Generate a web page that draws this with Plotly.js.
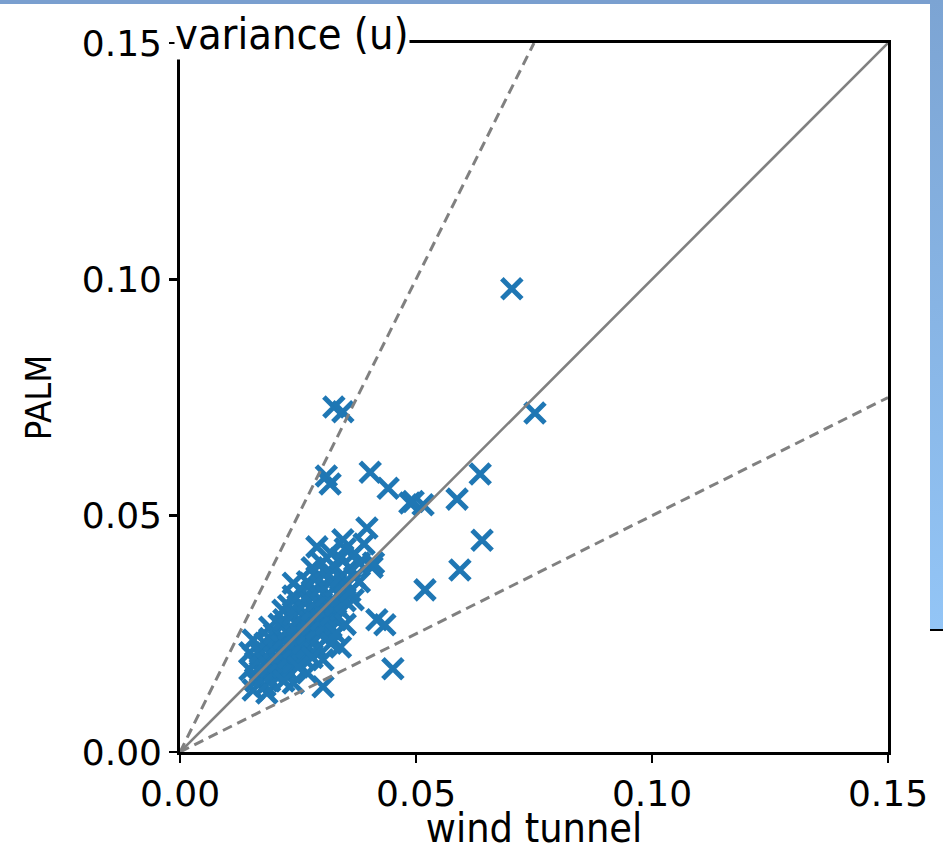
<!DOCTYPE html>
<html>
<head>
<meta charset="utf-8">
<script src="https://cdn.plot.ly/plotly-3.0.1.min.js"></script>
<style>
  html, body { margin: 0; padding: 0; background: #ffffff; }
  #wrap { position: relative; width: 943px; height: 852px; overflow: hidden; }
  #topstrip { position: absolute; left: 0; top: 0; width: 943px; height: 4px; background: #7a9fcf; z-index: 0; }
  #sidestrip { position: absolute; left: 930px; top: 0; width: 13px; height: 629px;
               background: linear-gradient(#7ca4d3, #93c5f6); z-index: 0; }
  #sideline { position: absolute; left: 930px; top: 629px; width: 13px; height: 2px; background: #000; z-index: 0; }
  #chart { position: absolute; left: 0; top: 0; width: 943px; height: 852px; z-index: 1; }
</style>
</head>
<body>
<div id="wrap">
  <div id="topstrip"></div>
  <div id="sidestrip"></div>
  <div id="sideline"></div>
  <div id="chart"></div>
</div>
<script>
// wind tunnel (x) and PALM (y) variance values
const windTunnel = [
  0.0703, 0.0752, 0.0326, 0.0345, 0.0310, 0.0318, 0.0403, 0.0441, 0.0487, 0.0494,
  0.0515, 0.0587, 0.0636, 0.0640, 0.0593, 0.0519, 0.0451, 0.0303, 0.0417, 0.0434,
  0.0396, 0.0345, 0.0407, 0.0380, 0.0367, 0.0340,
  0.0155, 0.0184, 0.0148, 0.0148, 0.0155, 0.0190, 0.0218, 0.0240, 0.0280, 0.0290,
  0.0240, 0.0270, 0.0303, 0.0410,
  0.016, 0.017, 0.016, 0.017, 0.018, 0.018, 0.018, 0.018, 0.019, 0.019,
  0.019, 0.019, 0.020, 0.020, 0.020, 0.020, 0.021, 0.021, 0.021, 0.021,
  0.022, 0.022, 0.022, 0.022, 0.023, 0.023, 0.023, 0.023, 0.023, 0.024,
  0.024, 0.024, 0.024, 0.024, 0.025, 0.025, 0.025, 0.025, 0.026, 0.026,
  0.026, 0.026, 0.026, 0.027, 0.027, 0.027, 0.027, 0.027, 0.028, 0.028,
  0.028, 0.028, 0.029, 0.029, 0.029, 0.029, 0.029, 0.030, 0.030, 0.030,
  0.030, 0.030, 0.031, 0.031, 0.031, 0.031, 0.031, 0.032, 0.032, 0.032,
  0.032, 0.032, 0.033, 0.033, 0.033, 0.033, 0.034, 0.034, 0.034, 0.034,
  0.035, 0.035, 0.035, 0.036, 0.036, 0.037, 0.037, 0.038, 0.039, 0.028,
  0.025, 0.022, 0.032, 0.035, 0.033
];
const palm = [
  0.0980, 0.0717, 0.0730, 0.0720, 0.0584, 0.0567, 0.0592, 0.0558, 0.0527, 0.0530,
  0.0523, 0.0535, 0.0588, 0.0448, 0.0385, 0.0343, 0.0176, 0.0138, 0.0280, 0.0269,
  0.0474, 0.0449, 0.0391, 0.0360, 0.0322, 0.0222,
  0.0131, 0.0125, 0.0174, 0.0210, 0.0237, 0.0264, 0.0300, 0.0357, 0.0390, 0.0434,
  0.0146, 0.0167, 0.0195, 0.0400,
  0.015, 0.017, 0.019, 0.021, 0.014, 0.016, 0.019, 0.023, 0.015, 0.018,
  0.021, 0.024, 0.017, 0.020, 0.022, 0.025, 0.016, 0.019, 0.023, 0.027,
  0.018, 0.021, 0.024, 0.028, 0.017, 0.020, 0.023, 0.026, 0.031, 0.019,
  0.022, 0.025, 0.029, 0.033, 0.021, 0.024, 0.027, 0.031, 0.020, 0.023,
  0.026, 0.029, 0.034, 0.022, 0.025, 0.028, 0.032, 0.036, 0.024, 0.027,
  0.030, 0.034, 0.022, 0.026, 0.029, 0.032, 0.037, 0.025, 0.028, 0.031,
  0.035, 0.040, 0.024, 0.027, 0.030, 0.033, 0.038, 0.026, 0.029, 0.032,
  0.036, 0.042, 0.028, 0.031, 0.035, 0.039, 0.030, 0.033, 0.037, 0.041,
  0.032, 0.036, 0.043, 0.034, 0.039, 0.037, 0.042, 0.040, 0.044, 0.020,
  0.018, 0.015, 0.023, 0.027, 0.025
];

// reference lines: 1:1, factor 2, factor 0.5
const refOneX = [0, 0.15],  refOneY = [0, 0.15];
const refTwoX = [0, 0.075], refTwoY = [0, 0.15];
const refHalfX = [0, 0.15], refHalfY = [0, 0.075];

const tickVals = [0, 0.05, 0.10, 0.15];
const tickText = ['0.00', '0.05', '0.10', '0.15'];

const blue = '#1f77b4';
const grey = '#808080';

const traces = [
  {
    x: windTunnel, y: palm, type: 'scatter', mode: 'markers',
    marker: { symbol: 'x-thin', size: 20, line: { color: blue, width: 5 } },
    hoverinfo: 'skip'
  },
  { x: refOneX, y: refOneY, type: 'scatter', mode: 'lines',
    line: { color: grey, width: 2.6 }, hoverinfo: 'skip' },
  { x: refTwoX, y: refTwoY, type: 'scatter', mode: 'lines',
    line: { color: grey, width: 3, dash: '10px,6px' }, hoverinfo: 'skip' },
  { x: refHalfX, y: refHalfY, type: 'scatter', mode: 'lines',
    line: { color: grey, width: 3, dash: '10px,6px' }, hoverinfo: 'skip' }
];

const narrow = '"DejaVu Sans Condensed", "Liberation Sans", sans-serif';
const tickFont = { family: '"DejaVu Sans", sans-serif', size: 36, color: '#000' };

const axisCommon = {
  range: [0, 0.15], autorange: false, fixedrange: true,
  showgrid: false, zeroline: false,
  showline: true, mirror: true, linecolor: '#000', linewidth: 2.8,
  ticks: 'outside', ticklen: 8, tickwidth: 2.6, tickcolor: '#000',
  tickmode: 'array', tickvals: tickVals, ticktext: tickText,
  tickfont: tickFont
};

const layout = {
  width: 943, height: 852,
  margin: { l: 180, r: 55, t: 43, b: 100, pad: 0 },
  paper_bgcolor: 'rgba(0,0,0,0)', plot_bgcolor: '#ffffff',
  showlegend: false,
  xaxis: Object.assign({}, axisCommon, {
    title: { text: 'wind tunnel', font: { family: narrow, size: 41, color: '#000' }, standoff: 17 }
  }),
  yaxis: Object.assign({}, axisCommon, {
    title: { text: 'PALM', font: { family: narrow, size: 36, color: '#000' }, standoff: 20 }
  }),
  annotations: [
    {
      text: 'variance (u)', xref: 'paper', yref: 'paper',
      x: -0.009, y: 1.012, xanchor: 'left', yanchor: 'middle',
      showarrow: false, bgcolor: '#ffffff', borderpad: 0,
      font: { family: narrow, size: 43, color: '#000' }
    }
  ]
};

Plotly.newPlot('chart', traces, layout, { staticPlot: true, displayModeBar: false });
</script>
</body>
</html>
